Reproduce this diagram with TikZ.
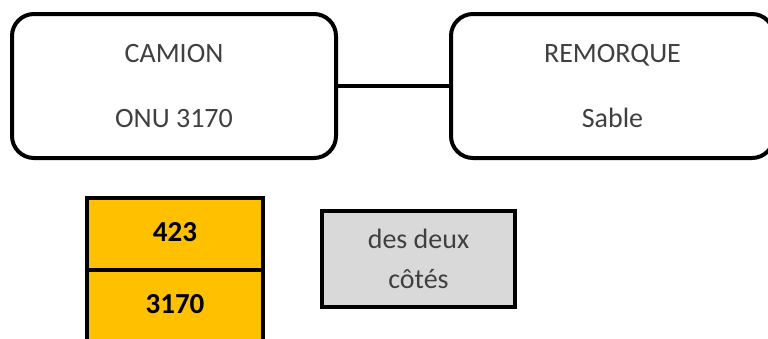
\documentclass[tikz,border=0pt]{standalone}
\usepackage{fontspec}
\setmainfont{Carlito}
\definecolor{txtgray}{HTML}{404040}
\definecolor{plateorange}{HTML}{FFC000}
\definecolor{boxgray}{HTML}{D9D9D9}
\tikzset{
  bigbox/.style={draw=black, line width=4pt, rounded corners=22pt, fill=white,
    minimum height=144pt, inner sep=0pt, outer sep=0pt, align=center,
    text=txtgray, font=\fontsize{28}{65}\selectfont},
  platebox/.style={draw=black, line width=4pt, fill=plateorange,
    minimum width=176pt, minimum height=72pt, inner sep=0pt, outer sep=0pt,
    font=\fontsize{29}{32}\selectfont\bfseries, text=black},
  notebox/.style={draw=black, line width=4pt, fill=boxgray,
    minimum width=193pt, minimum height=96pt, inner sep=0pt, outer sep=0pt, align=center,
    text=txtgray, font=\fontsize{28}{40}\selectfont},
  link/.style={draw=black, line width=4pt}
}
\begin{document}
\begin{tikzpicture}[x=1pt,y=-1pt]
\useasboundingbox (0,0) rectangle (768,338);
\clip (0,0) rectangle (768,338);
\fill[white] (0,0) rectangle (768,338);
\node[bigbox, minimum width=324pt] (camion) at (174,86) {CAMION\\ONU 3170};
\node[bigbox, minimum width=323pt] (remorque) at (612.5,86) {REMORQUE\\Sable};
\draw[link] (camion.east) -- (remorque.west);
\node[platebox] (plateb) at (175,306) {\raisebox{4pt}{3170}};
\node[platebox] (platet) at (175,234) {\raisebox{4pt}{423}};
\node[notebox] (note) at (418.5,259) {des deux\\côtés};
\end{tikzpicture}
\end{document}
